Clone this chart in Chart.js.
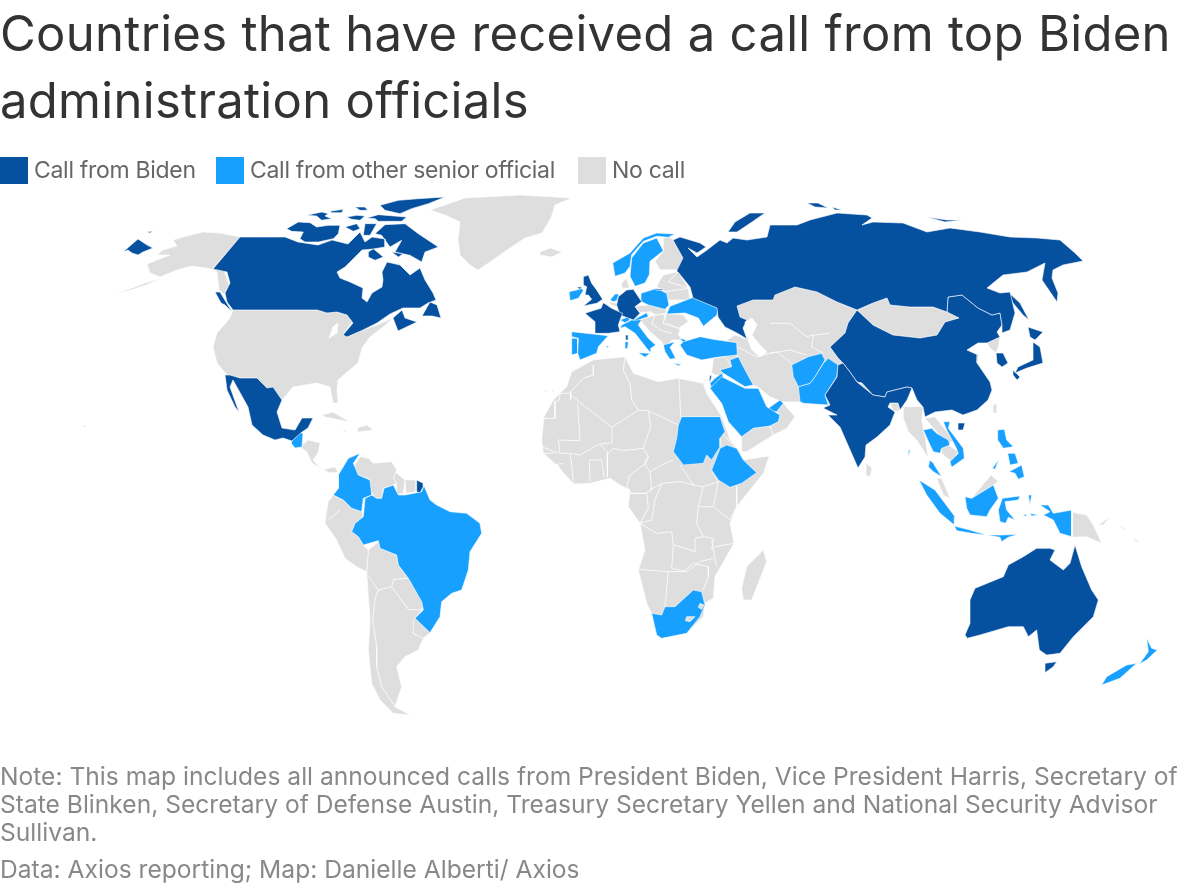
<!DOCTYPE html>
<html><head><meta charset="utf-8">
<script src="https://cdn.jsdelivr.net/npm/chart.js@4"></script>
<style>
html,body{margin:0;padding:0;background:#fff;width:1200px;height:886px;overflow:hidden}
#map{position:absolute;left:0;top:0}
.t{position:absolute;left:0;white-space:nowrap;font-family:Inter,sans-serif}
.h{font-size:49px;line-height:68px;color:#333;letter-spacing:.3px}
.lg{font-size:23px;line-height:28px;color:#666;top:156px;letter-spacing:-.3px}
.sw{position:absolute;top:157px;width:28px;height:27px}
.n{font-size:24.6px;line-height:28px;color:#888}
</style></head><body>
<canvas id="map" width="1200" height="886"></canvas>
<div class="t h" style="top:0">Countries that have received a call from top Biden</div>
<div class="t h" style="top:67px">administration officials</div>
<div id="legend"></div>
<div class="t n" style="top:762px">Note: This map includes all announced calls from President Biden, Vice President Harris, Secretary of</div>
<div class="t n" style="top:790px">State Blinken, Secretary of Defense Austin, Treasury Secretary Yellen and National Security Advisor</div>
<div class="t n" style="top:818px">Sullivan.</div>
<div class="t n" style="top:855px">Data: Axios reporting; Map: Danielle Alberti/ Axios</div>
<script>
// Legend categories
const categories = ["Call from Biden", "Call from other senior official", "No call"];
const colors = ["#0650A0", "#18A0FF", "#DEDEDE"];
const legendSwatchX = [0, 216, 578];
const legendTextX = [34, 250, 612];

// Traced map outlines; grid(ox, oy, pts) reads outlines noted at one third of a map unit from a regional origin
const grid = (ox, oy, pts) => pts.map(([x, y]) => [ox + x / 3, oy + y / 3]);
const EU = p => grid(540, 220, p), AS = p => grid(880, 400, p), SA = p => grid(280, 420, p), AF = p => grid(530, 350, p), ME = p => grid(690, 340, p), EA = p => grid(770, 200, p);
const ARC = p => grid(285, 192, p), WE = p => grid(565, 270, p), NE = p => grid(610, 228, p), SE = p => grid(915, 420, p);

const noCall = [
  // Greenland, Iceland, Alaska, Aleutians
  [[465,198],[520,195],[572,198],[555,205],[551,218],[542,233],[525,238],[510,248],[490,262],[478,270],[470,265],[460,255],[458,240],[460,222],[445,215],[430,210],[445,205]],
  [[540,252],[550,248],[562,252],[552,257],[540,255]],
  [[240,237],[220,233],[203,232],[187,236],[173,240],[177,246],[163,250],[157,255],[170,255],[157,260],[147,264],[150,273],[160,277],[177,270],[192,266],[212,269],[217,272],[219,290],[224,294],[229,285],[224,270],[213,268]],
  [[163,278],[145,283],[127,290],[112,295],[128,291],[146,285]],
  // USA and lower North America
  [[233,310],[317,310],[327,313],[337,312],[347,315],[352,322],[343,335],[347,337],[363,330],[377,325],[393,318],[383,327],[370,337],[362,348],[358,363],[347,372],[338,380],[337,390],[338,403],[333,403],[330,387],[317,383],[293,387],[282,400],[273,390],[267,388],[257,378],[240,378],[227,375],[217,363],[213,347],[217,333],[230,318]],
  [[300,447],[308,440],[320,443],[318,453],[313,460],[322,470],[335,467],[338,472],[330,473],[320,468],[312,463],[307,452]],
  [[322,415],[333,412],[350,422],[340,420],[325,417]],
  [[357,428],[367,425],[373,430],[358,432]],
  [[342,430],[347,430],[345,432]],
  [[83,425],[86,425],[85,428]],
  // South America
  SA([[222,140],[240,110],[265,115],[280,130],[335,125],[350,150],[340,175],[350,190],[310,205],[305,235],[285,235],[272,210],[270,178],[235,165]]),
  SA([[345,155],[375,180],[370,220],[350,225],[350,190],[340,178]]),
  SA([[375,180],[410,180],[408,215],[378,220]]),
  SA([[160,225],[190,240],[215,265],[245,275],[250,290],[225,310],[215,335],[235,350],[250,375],[265,390],[260,455],[230,440],[195,415],[170,360],[135,310],[145,245]]),
  SA([[160,225],[190,245],[160,285],[145,300],[135,290],[145,245]]),
  SA([[265,390],[300,362],[305,385],[350,405],[355,435],[385,475],[340,478],[335,500],[295,510],[260,460]]),
  SA([[340,478],[385,475],[405,510],[430,545],[425,570],[385,568],[335,500]]),
  SA([[400,600],[405,595],[450,638],[430,655],[400,640]]),
  SA([[260,455],[295,510],[285,535],[278,600],[290,680],[290,740],[305,800],[345,860],[390,885],[340,880],[300,840],[275,790],[265,690],[270,600]]),
  SA([[295,510],[335,500],[385,568],[425,570],[405,595],[400,640],[430,655],[415,690],[375,710],[350,740],[365,800],[345,860],[305,800],[290,740],[290,680],[278,600],[285,535]]),
  // Africa, Madagascar
  AF([[190,30],[285,20],[310,70],[385,95],[445,85],[520,100],[530,130],[575,200],[590,240],[600,270],[630,305],[640,330],[718,318],[700,370],[620,470],[600,520],[612,580],[555,680],[550,745],[525,760],[520,800],[470,850],[390,865],[365,790],[350,760],[325,660],[345,600],[330,520],[295,470],[300,420],[270,405],[240,385],[180,400],[130,402],[80,345],[40,310],[35,270],[42,200],[70,150],[110,110],[125,65]]),
  AF([[700,600],[710,635],[665,750],[640,750],[635,715],[650,650]]),
  // Europe
  NE([[35,165],[50,150],[58,180],[35,180]]),
  NE([[160,30],[175,25],[190,35],[220,90],[210,125],[150,125],[135,100],[160,70]]),
  EU([[370,165],[415,155],[445,205],[450,240],[385,240],[375,215],[350,200],[360,180]]),
  EU([[205,245],[235,250],[232,262],[210,252]]),
  EU([[285,258],[335,255],[380,265],[378,282],[345,285],[330,275],[300,278]]),
  EU([[380,280],[430,285],[445,305],[415,325],[370,310]]),
  EU([[300,300],[345,285],[375,280],[370,310],[420,325],[415,345],[430,360],[395,360],[375,385],[365,365],[330,335]]),
  // Western and central Asia
  [[737,305],[753,300],[770,293],[795,287],[817,292],[837,302],[857,310],[848,323],[845,333],[830,347],[838,358],[845,365],[827,395],[800,402],[783,402],[770,397],[758,387],[753,385],[735,375],[720,345],[735,335],[747,339],[745,325],[737,315]],
  EU([[520,415],[590,405],[570,440],[545,470],[515,460]]),
  ME([[280,190],[315,230],[290,265],[250,285],[240,258],[265,245],[270,225],[260,215]]),
  ME([[155,290],[190,265],[240,258],[250,285],[170,335],[155,335]]),
  [[857,310],[873,303],[887,298],[890,305],[910,307],[933,307],[947,312],[959,318],[945,322],[937,335],[920,338],[893,335],[873,325]],
  [[857,387],[862,383],[883,393],[885,397],[873,395]],
  [[888,392],[900,393],[902,396],[889,396]],
  [[890,403],[898,403],[900,411],[893,411]],
  [[866,463],[872,468],[870,477],[866,475]],
  [[987,343],[1000,337],[998,348],[996,353],[990,348]],
  [[993,405],[997,403],[997,413],[993,413]],
  // South-east Asia and the Pacific
  AS([[70,20],[130,20],[125,60],[135,110],[145,175],[110,120],[85,95],[70,55]]),
  AS([[135,55],[165,50],[220,120],[205,135],[165,90]]),
  AS([[205,135],[235,155],[215,185],[185,160],[185,140]]),
  SE([[65,175],[80,175],[105,235],[85,225]]),
  SE([[170,235],[228,165],[250,185],[235,195]]),
  AS([[578,337],[620,345],[640,375],[665,430],[620,410],[578,412]]),
  AS([[655,375],[690,350],[670,375]]),
  AS([[720,375],[745,395],[725,385]]),
  AS([[760,410],[782,432],[765,422]]),
];

const otherOfficial = [
  // Guatemala, Colombia, Brazil
  [[297,433],[303,433],[302,447],[295,448],[291,443]],
  SA([[240,100],[205,115],[175,165],[175,205],[160,225],[190,240],[215,265],[245,275],[250,235],[275,225],[270,180],[235,165],[220,130]]),
  SA([[340,195],[355,225],[375,225],[410,218],[425,215],[432,197],[450,240],[470,255],[510,275],[560,280],[600,310],[605,340],[570,395],[565,450],[545,510],[515,520],[485,545],[480,590],[450,638],[405,595],[430,570],[425,545],[405,510],[385,475],[355,435],[350,405],[300,385],[295,362],[250,375],[235,350],[215,335],[225,310],[250,290],[255,235],[275,225],[290,235],[305,235],[312,205]]),
  // Africa
  AF([[455,200],[570,200],[585,245],[570,265],[570,290],[545,330],[530,315],[520,340],[460,345],[430,305],[440,265],[445,225]]),
  AF([[590,285],[620,295],[640,330],[680,368],[635,400],[600,412],[565,390],[545,360],[570,295]]),
  AF([[490,720],[515,725],[525,765],[510,800],[470,850],[395,865],[380,855],[365,790],[395,795],[405,770],[435,770]]),
  AF([[44,122],[50,122],[48,127]]), AF([[66,122],[71,122],[69,127]]),
  // Europe
  WE([[12,65],[35,60],[50,55],[55,62],[40,85],[15,92]]),
  WE([[135,90],[150,72],[162,72],[155,92],[145,95]]),
  NE([[8,105],[60,75],[100,30],[140,15],[195,18],[175,28],[140,25],[100,40],[65,80],[60,115],[45,135],[15,145]]),
  NE([[65,90],[100,45],[140,30],[160,68],[120,100],[118,140],[105,165],[75,175],[60,145]]),
  WE([[228,70],[275,55],[305,70],[312,105],[300,118],[250,105],[230,95]]),
  NE([[180,235],[250,208],[325,240],[320,262],[280,295],[265,270],[225,255],[170,258]]),
  WE([[165,150],[190,140],[195,150],[180,158]]),
  WE([[205,150],[245,128],[250,140],[220,150]]),
  WE([[165,175],[170,165],[200,150],[230,148],[220,165],[250,205],[272,225],[258,235],[258,250],[245,235],[210,190],[180,170]]),
  WE([[220,248],[255,250],[240,262]]),
  WE([[180,215],[190,215],[188,235],[180,237]]),
  WE([[295,225],[330,215],[315,232],[332,265],[315,268],[300,245]]),
  EU([[430,365],[480,350],[520,358],[590,368],[592,405],[530,412],[485,420],[440,405],[420,375]]),
  EU([[420,355],[440,360],[430,368]]),
  EU([[400,430],[425,433],[415,437]]),
  WE([[20,185],[130,197],[100,230],[95,250],[45,270],[38,250],[40,205],[20,200]]),
  WE([[20,205],[38,205],[38,250],[20,255]]),
  WE([[122,228],[132,228],[128,234]]),
  // Middle East and South Asia
  ME([[120,60],[145,50],[160,80],[190,135],[165,140],[100,100],[90,90],[125,80]]),
  ME([[60,145],[95,110],[165,145],[205,145],[230,200],[270,225],[265,245],[240,258],[190,265],[155,290],[115,245],[95,190]]),
  ME([[75,115],[95,100],[100,110],[65,145],[60,130]]),
  ME([[235,205],[270,180],[280,190],[260,215],[245,215]]),
  ME([[305,75],[355,50],[395,40],[405,60],[375,110],[360,130],[325,140],[310,110]]),
  ME([[415,55],[445,75],[440,110],[405,165],[415,195],[340,190],[330,185],[325,140],[360,130],[375,110],[400,70]]),
  // South-east Asia, Indonesia, Philippines, New Zealand
  SE([[25,30],[50,25],[65,40],[100,60],[105,75],[80,85],[75,100],[55,95],[45,75]]),
  SE([[45,120],[55,130],[80,170],[55,155],[40,140]]),
  SE([[85,5],[105,5],[100,25],[145,85],[148,115],[110,142],[105,125],[130,100],[122,80],[95,30]]),
  SE([[150,230],[170,235],[235,195],[250,235],[225,270],[215,290],[165,285],[155,265]]),
  SE([[12,180],[60,210],[120,290],[118,315],[75,280],[35,225]]),
  SE([[118,318],[165,330],[215,345],[170,340],[125,332]]),
  SE([[215,345],[260,345],[310,343],[280,352],[260,365],[255,352]]),
  SE([[262,235],[315,228],[310,240],[270,245],[275,270],[300,300],[280,292],[272,310],[255,305],[250,270]]),
  SE([[340,225],[350,225],[345,255]]),
  SE([[323,285],[335,283],[335,290]]),
  SE([[345,280],[370,285],[350,288]]),
  SE([[375,255],[400,255],[415,280],[470,270],[470,350],[435,340],[415,300],[385,285],[405,275]]),
  AS([[85,150],[90,150],[86,168]]),
  SE([[248,30],[268,28],[275,60],[295,80],[265,85],[248,60]]),
  SE([[278,100],[300,100],[310,130],[285,135]]),
  SE([[282,155],[320,135],[328,170],[310,178],[300,160]]),
  SE([[232,145],[252,118],[240,148]]),
  AS([[800,715],[815,745],[832,750],[800,780],[778,792],[805,755]]),
  AS([[770,790],[720,835],[665,855],[680,830],[740,795]]),
];

const biden = [
  // Canada and its Arctic islands
  [[213,269],[240,237],[260,237],[285,237],[298,242],[318,245],[332,240],[348,244],[360,232],[365,242],[372,237],[385,239],[385,247],[373,249],[362,250],[345,267],[337,272],[340,278],[350,282],[363,288],[362,298],[367,302],[372,293],[382,287],[383,280],[382,272],[387,262],[400,265],[410,275],[420,268],[425,280],[433,293],[436,300],[428,303],[420,308],[403,308],[390,314],[377,323],[363,330],[347,337],[343,335],[353,323],[347,315],[337,312],[327,313],[317,310],[233,310],[227,302],[225,293],[230,283],[227,272]],
  ARC([[5,110],[40,90],[75,92],[95,105],[130,100],[165,100],[160,125],[145,140],[100,150],[60,150],[45,140],[55,120],[20,118]]),
  ARC([[65,70],[110,60],[130,65],[120,72],[140,80],[110,85],[95,72]]),
  ARC([[135,58],[175,52],[170,62],[140,62]]),
  ARC([[185,75],[215,70],[240,72],[225,85],[200,82]]),
  ARC([[285,40],[340,25],[400,20],[480,15],[430,35],[380,50],[345,65],[300,55]]),
  ARC([[210,45],[240,45],[248,55],[225,55]]),
  ARC([[245,78],[280,68],[365,75],[350,88],[280,88],[270,80]]),
  ARC([[180,105],[215,95],[225,110],[205,118]]),
  ARC([[240,95],[275,95],[255,130],[235,130]]),
  ARC([[270,125],[300,98],[360,95],[400,125],[460,165],[420,180],[410,210],[375,190],[330,180],[350,145],[315,165],[290,130]]),
  ARC([[250,180],[265,170],[295,195],[270,205],[250,195]]),
  ARC([[320,180],[355,185],[340,195]]),
  [[215,292],[220,292],[232,312],[225,305],[221,303]],
  [[422,316],[430,302],[437,305],[441,318],[432,316]],
  [[393,318],[402,310],[405,318],[417,322],[398,331]],
  // Mexico, French Guiana
  [[225,375],[230,375],[240,378],[257,378],[267,388],[273,387],[282,400],[277,412],[282,428],[295,430],[302,418],[313,418],[308,428],[302,432],[295,438],[292,441],[283,438],[275,440],[263,435],[252,425],[248,407],[233,380],[230,387],[239,412],[235,407],[227,390]],
  SA([[410,180],[430,190],[430,200],[420,218],[408,215]]),
  // Europe
  WE([[55,20],[70,15],[80,40],[95,60],[113,88],[95,100],[55,108],[80,88],[70,75],[60,75],[65,50],[55,45]]),
  WE([[35,52],[50,50],[45,58]]),
  WE([[115,98],[140,115],[173,130],[165,150],[160,165],[165,185],[130,190],[90,190],[90,155],[60,130],[90,120],[108,115]]),
  WE([[182,195],[190,195],[190,210],[182,210]]),
  WE([[185,60],[205,58],[230,95],[210,110],[225,130],[205,150],[165,135],[155,105],[160,80]]),
  EU([[348,207],[370,207],[370,210],[348,211]]),
  EU([[510,465],[515,468],[510,488],[508,478]]),
  // Russia and its islands
  [[770,225],[797,225],[810,220],[837,213],[867,215],[872,218],[862,225],[873,222],[903,223],[927,232],[950,228],[980,232],[1010,237],[1037,238],[1060,240],[1075,253],[1083,261],[1063,265],[1053,270],[1052,278],[1058,293],[1057,302],[1042,280],[1045,263],[1027,272],[1003,275],[987,288],[1000,293],[1010,292],[1015,313],[1010,330],[1002,333],[1002,325],[1000,313],[992,315],[978,308],[962,295],[948,297],[947,312],[933,307],[910,307],[890,305],[887,298],[873,303],[857,310],[837,302],[817,292],[795,287],[775,295],[773,300],[753,300],[737,306],[740,317],[747,320],[743,328],[747,339],[737,333],[725,327],[718,317],[717,308],[693,298],[690,287],[678,272],[677,270],[683,258],[673,240],[680,237],[700,243],[706,247],[697,253],[688,248],[697,257],[707,250],[720,240],[727,243],[733,238],[747,240],[767,237]],
  [[123,252],[138,239],[147,245],[153,248],[143,252],[138,255],[132,253],[128,250]],
  [[147,232],[153,231],[150,233]],
  [[1008,292],[1020,303],[1029,320],[1023,315],[1013,303]],
  [[728,232],[735,222],[750,213],[765,213],[752,222],[737,232]],
  [[807,203],[818,203],[828,208],[815,207]],
  [[832,207],[842,210],[835,210]],
  [[927,217],[947,220],[962,220],[945,222]],
  // India, China, Japan, South Korea
  [[838,365],[843,363],[850,372],[857,382],[873,395],[885,397],[887,392],[907,387],[912,388],[907,400],[900,410],[898,403],[890,403],[888,407],[895,412],[890,425],[877,437],[866,445],[865,457],[858,468],[840,427],[828,415],[837,415],[823,408],[830,405],[825,395],[837,377]],
  [[857,310],[873,325],[893,335],[920,338],[937,335],[945,322],[959,318],[947,312],[948,297],[962,295],[978,308],[992,315],[1000,313],[1002,325],[997,332],[1000,337],[987,343],[978,343],[967,350],[978,355],[977,363],[990,382],[992,390],[988,400],[977,410],[963,415],[952,410],[935,412],[925,417],[923,407],[917,400],[912,388],[907,387],[887,392],[885,397],[873,395],[862,383],[857,382],[850,372],[843,363],[838,358],[830,347],[845,333],[848,323]],
  [[958,423],[965,423],[963,430],[958,430]],
  [[1028,327],[1043,332],[1035,340],[1030,337]],
  [[1033,342],[1040,347],[1043,363],[1027,368],[1015,373],[1018,367],[1033,360]],
  [[1013,370],[1020,377],[1017,380],[1013,375]],
  [[996,353],[1003,353],[1008,363],[1002,367],[997,363]],
  // Australia
  AS([[585,435],[605,500],[635,570],[655,600],[640,650],[580,710],[540,760],[500,765],[478,750],[470,690],[445,710],[430,680],[385,680],[300,705],[262,715],[255,705],[270,670],[270,600],[285,565],[370,530],[385,495],[430,470],[470,445],[510,445],[525,450],[510,480],[550,510],[570,490]]),
  AS([[495,790],[530,785],[520,800],[495,818]]),
];

// Lakes and inland seas, drawn white over the land
const water = [
  [[329,338],[333,327],[338,323],[337,333]],
  [[745,322],[752,318],[757,325],[752,335],[760,345],[767,352],[760,357],[752,350],[748,340]],
];
const enclaves = [
  AF([[470,800],[495,800],[480,815],[466,812]]),
  AF([[510,760],[522,765],[515,778],[505,772]]),
];

// Borders between countries that received no call
const borders = [
  AF([[190,45],[190,75],[160,85],[122,125],[122,150]]),
  AF([[122,130],[90,130],[88,150],[75,155],[75,205],[42,205]]),
  AF([[143,160],[150,272],[85,270],[90,310],[120,310],[150,315],[185,295],[210,282],[247,278],[245,232],[122,135]]),
  AF([[285,20],[280,60],[300,100],[305,150],[325,180],[245,232]]),
  AF([[325,180],[355,182],[445,225]]),
  AF([[447,85],[452,200],[570,200]]),
  AF([[355,182],[362,230],[340,295],[355,320],[345,345],[360,365],[395,345],[430,330]]),
  AF([[212,285],[235,310],[250,295],[280,302],[340,295]]),
  AF([[232,310],[232,380]]),
  AF([[215,330],[222,382]]), AF([[178,330],[180,395]]), AF([[178,330],[215,330]]),
  AF([[120,310],[125,345],[130,400]]),
  AF([[80,340],[95,365]]), AF([[100,340],[70,345],[85,370]]),
  AF([[35,290],[85,310]]), AF([[40,310],[70,310]]),
  AF([[355,320],[340,345],[300,375],[290,410],[305,430],[345,430],[365,420],[360,365]]),
  AF([[360,420],[395,400],[450,395],[490,405],[520,410]]),
  AF([[450,345],[490,405]]), AF([[545,360],[565,395],[520,410]]),
  AF([[520,410],[505,470],[500,520],[520,560],[550,565],[545,600]]),
  AF([[300,430],[350,430],[355,475],[330,520],[365,510],[375,450],[395,400]]),
  AF([[330,520],[380,550],[425,545],[430,585],[450,590],[495,605],[495,565],[520,560]]),
  AF([[430,585],[425,655],[470,665],[510,635],[550,625]]),
  AF([[325,658],[410,665],[470,665]]), AF([[415,665],[405,770]]),
  AF([[460,665],[490,640],[535,650],[535,680],[520,720]]),
  AF([[555,590],[612,580]]), AF([[545,570],[560,650]]),
  AF([[620,470],[600,510],[550,470],[505,470]]), AF([[565,395],[550,470]]), AF([[620,410],[620,470]]),
  AF([[630,305],[575,250]]),
  EU([[330,275],[345,285],[375,280]]),
  EU([[345,285],[335,310],[360,330],[395,340]]),
  EU([[380,310],[415,325]]),
  EU([[415,155],[385,185],[445,205]]),
  EU([[375,215],[450,205]]),
  ME([[140,20],[200,50],[260,35],[305,70]]),
  ME([[325,130],[305,75]]),
  ME([[145,50],[120,40],[140,20]]),
  EA([[0,370],[60,370],[110,410],[130,405],[180,400]]),
  EA([[0,460],[60,450],[110,465]]),
  EA([[130,405],[125,440],[160,460]]),
  SA([[145,300],[180,270]]),
];

const shape = (pts, color) => {
  const data = [...pts, pts[0]].map(([x, y]) => ({x, y}));
  return {data, showLine: true, fill: 'shape', backgroundColor: color, borderColor: '#fff', borderWidth: 0.6, pointRadius: 0, tension: 0};
};
const path = (pts) => ({data: pts.map(([x, y]) => ({x, y})), showLine: true, fill: false, borderColor: '#fff', borderWidth: 0.8, pointRadius: 0, tension: 0});

// Chart.js paints the first dataset on top, so the list runs from the uppermost layer down
const datasets = [
  ...enclaves.map(p => shape(p, colors[2])),
  ...water.map(p => shape(p, '#fff')),
  ...biden.map(p => shape(p, colors[0])),
  ...otherOfficial.map(p => shape(p, colors[1])),
  ...borders.map(path),
  ...noCall.map(p => shape(p, colors[2])),
];

new Chart(document.getElementById('map'), {
  type: 'scatter',
  data: {datasets},
  options: {
    responsive: false, animation: false, events: [],
    layout: {padding: 0},
    plugins: {legend: {display: false}, tooltip: {enabled: false}, title: {display: false}},
    scales: {
      x: {type: 'linear', display: false, min: 0, max: 1200},
      y: {type: 'linear', display: false, min: 0, max: 886, reverse: true},
    },
  },
});

const legend = document.getElementById('legend');
categories.forEach((name, i) => {
  legend.insertAdjacentHTML('beforeend',
    `<div class="sw" style="left:${legendSwatchX[i]}px;background:${colors[i]}"></div><div class="t lg" style="left:${legendTextX[i]}px">${name}</div>`);
});
</script>
</body></html>
